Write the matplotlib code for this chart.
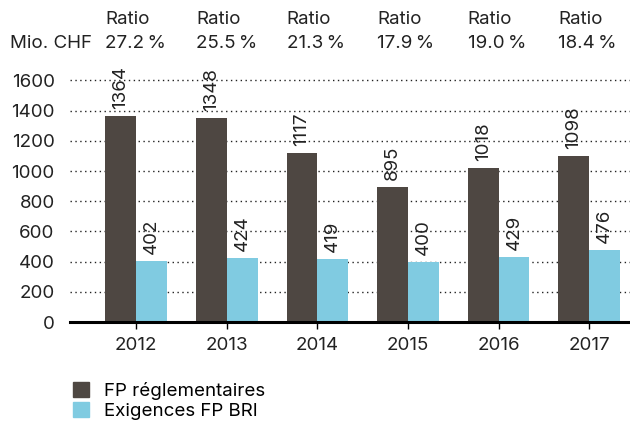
import matplotlib
matplotlib.use("Agg")
import matplotlib.pyplot as plt
from matplotlib.patches import Patch
import numpy as np

plt.rcParams['font.family'] = ['Inter', 'DejaVu Sans']

# data
years = ["2012", "2013", "2014", "2015", "2016", "2017"]
fp_regl = [1364, 1348, 1117, 895, 1018, 1098]
fp_bri = [402, 424, 419, 400, 429, 476]
ratios = ["27.2\u2009%", "25.5\u2009%", "21.3\u2009%", "17.9\u2009%", "19.0\u2009%", "18.4\u2009%"]

dark = "#4e4742"
light = "#80cbe1"
txt = "#222222"
fs = 13.5

fig = plt.figure(figsize=(6.3, 4.21), dpi=100)
ax = fig.add_axes([0.111, 0.235, 0.889, 0.61])

x = np.arange(len(years))
w = 0.34

ax.bar(x - w / 2, fp_regl, w, color=dark, zorder=3)
ax.bar(x + w / 2, fp_bri, w, color=light, zorder=3)

# value labels, rotated
for i in range(len(years)):
    ax.annotate(str(fp_regl[i]), (x[i] - w / 2, fp_regl[i]), xytext=(0, 5),
                textcoords="offset points", rotation=90, ha="center", va="bottom",
                fontsize=fs, color=txt)
    ax.annotate(str(fp_bri[i]), (x[i] + w / 2, fp_bri[i]), xytext=(0, 5),
                textcoords="offset points", rotation=90, ha="center", va="bottom",
                fontsize=fs, color=txt)

ax.set_xlim(-0.73, 5.45)
ax.set_ylim(0, 1700)
ax.set_yticks(range(0, 1601, 200))
ax.set_xticks(x)
ax.set_xticklabels(years)

# dotted grid
for yv in range(200, 1601, 200):
    ax.axhline(yv, color=txt, lw=1.0, ls=(0, (1, 2.5)), zorder=1)
ax.axhline(0, color="black", lw=2.2, zorder=4, clip_on=False)

for s in ax.spines.values():
    s.set_visible(False)
ax.tick_params(axis="y", length=0, pad=11, labelsize=fs, labelcolor=txt)
ax.tick_params(axis="x", length=5, width=1, direction="out", pad=6,
               labelsize=fs, labelcolor=txt, color="black")

# header
fig.text(10 / 630, 1 - 44 / 421, "Mio. CHF", fontsize=fs, va="center", color=txt)
for i in range(len(years)):
    xf = ax.transData.transform((x[i] - w, 0))[0] / fig.bbox.width
    fig.text(xf, 1 - 20 / 421, "Ratio", fontsize=fs, va="center", color=txt)
    fig.text(xf, 1 - 44 / 421, ratios[i], fontsize=fs, va="center", color=txt)

# legend
handles = [Patch(color=dark, label="FP réglementaires"),
           Patch(color=light, label="Exigences FP BRI")]
fig.legend(handles=handles, loc="upper left", bbox_to_anchor=(67 / 630, 1 - 376 / 421),
           frameon=False, fontsize=fs, handlelength=0.85, handleheight=0.85,
           handletextpad=0.8, labelspacing=0.15, borderaxespad=0, borderpad=0.3)

fig.savefig("out.png", dpi=100)
